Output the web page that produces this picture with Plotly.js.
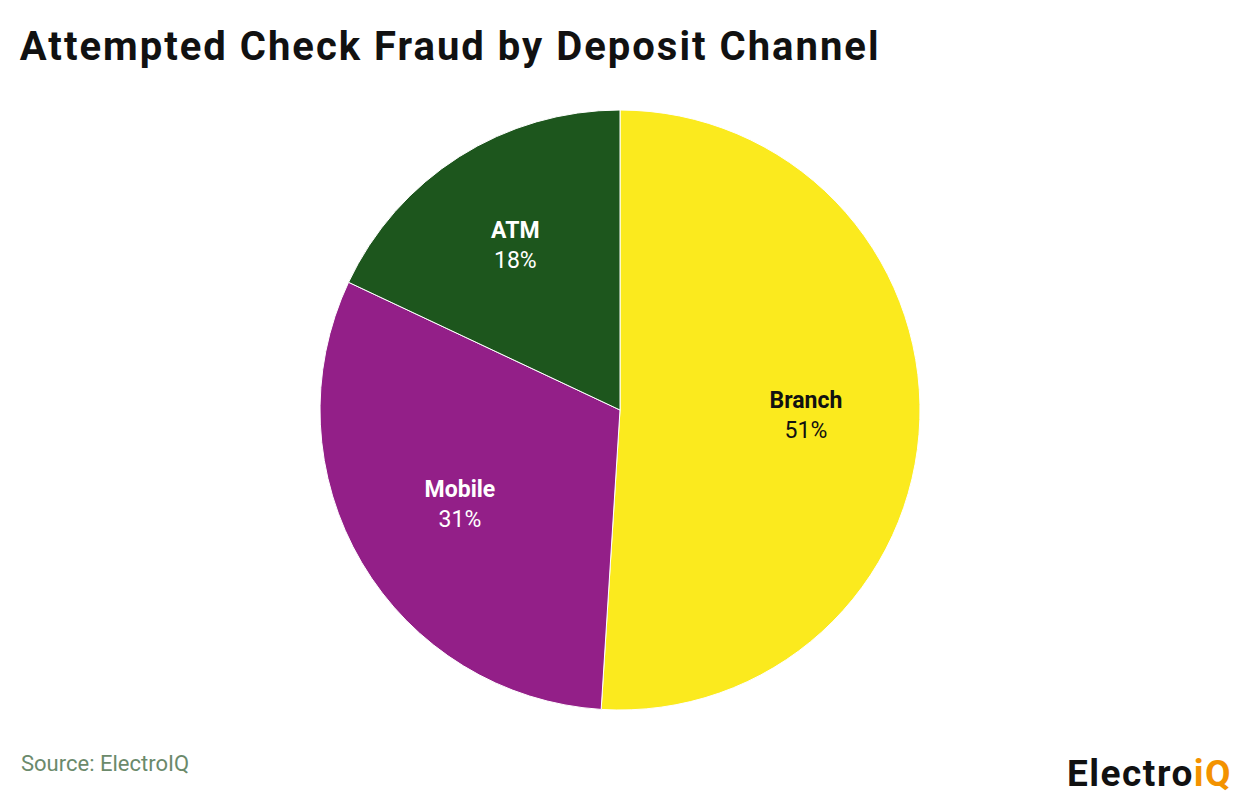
<!DOCTYPE html>
<html>
<head>
<meta charset="utf-8">
<script src="https://cdn.plot.ly/plotly-3.0.1.min.js"></script>
<style>html,body{margin:0;padding:0;background:#fff;}#chart{width:1240px;height:796px;}</style>
</head>
<body>
<div id="chart"></div>
<script>
const channels = ["Branch", "Mobile", "ATM"];
const shares = [51, 31, 18];
const sliceColors = ["#FBEA1E", "#931F88", "#1D561D"];
const labelColors = ["#111111", "#ffffff", "#ffffff"];

// base pie (full disc, no text)
const basePie = {
  type: "pie",
  labels: channels,
  values: shares,
  sort: false,
  direction: "clockwise",
  rotation: 0,
  marker: {colors: sliceColors, line: {color: "#ffffff", width: 1}},
  textinfo: "none",
  hoverinfo: "skip",
  showlegend: false
};

// transparent overlay ring carrying the labels (places labels like the reference)
const labelPie = {
  type: "pie",
  labels: channels,
  values: shares,
  sort: false,
  direction: "clockwise",
  rotation: 0,
  hole: 0.24,
  marker: {colors: ["rgba(0,0,0,0)", "rgba(0,0,0,0)", "rgba(0,0,0,0)"], line: {width: 0}},
  texttemplate: "<b>%{label}</b><br>%{value}%",
  textposition: "inside",
  insidetextorientation: "horizontal",
  textfont: {family: "Roboto", size: 23, color: labelColors},
  hoverinfo: "label+value",
  showlegend: false
};

const layout = {
  width: 1240,
  height: 796,
  margin: {l: 0, r: 0, t: 110, b: 86},
  paper_bgcolor: "#ffffff",
  font: {family: "Roboto"},
  title: {
    text: "<b><span style='letter-spacing:2px'>Attempted Check Fraud by Deposit Channel</span></b>",
    font: {family: "Roboto", size: 40, color: "#111111"},
    x: 0.016, xanchor: "left", y: 0.942, yanchor: "middle"
  },
  annotations: [
    {text: "Source: ElectroIQ", xref: "paper", yref: "paper", x: 0, y: 0,
     xanchor: "left", yanchor: "middle", showarrow: false, xshift: 19, yshift: -53,
     font: {family: "Roboto", size: 22, color: "#6B8A6B"}},
    {text: "<b><span style='letter-spacing:1.5px'>Electro<span style='color:#F39200'>iQ</span></span></b>", xref: "paper", yref: "paper", x: 1, y: 0,
     xanchor: "right", yanchor: "middle", showarrow: false, xshift: -6, yshift: -63,
     font: {family: "Roboto", size: 37, color: "#111111"}}
  ]
};

Plotly.newPlot("chart", [basePie, labelPie], layout, {displayModeBar: false, staticPlot: true});
</script>
</body>
</html>
